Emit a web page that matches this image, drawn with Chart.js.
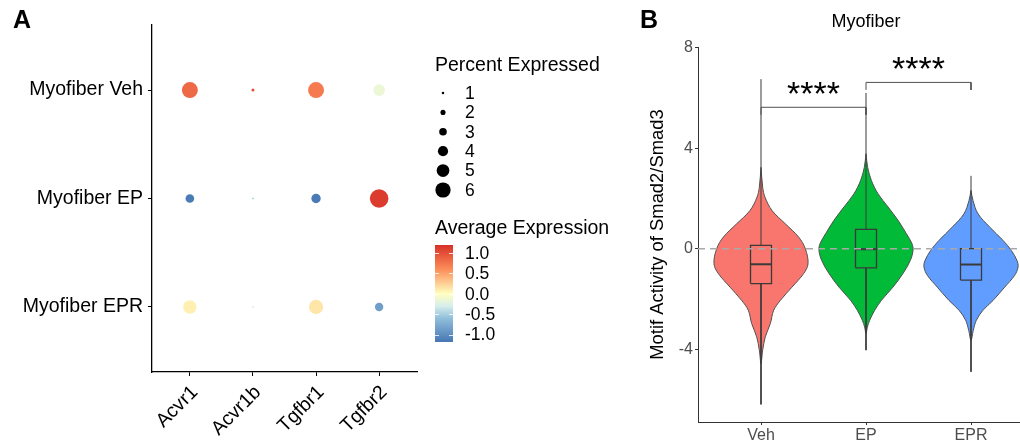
<!DOCTYPE html>
<html>
<head>
<meta charset="utf-8">
<script src="https://cdn.jsdelivr.net/npm/chart.js@4.4.1/dist/chart.umd.min.js"></script>
<style>
  html, body { margin: 0; padding: 0; background: #fff; overflow: hidden; }
  #wrap { position: relative; width: 1020px; height: 442px; }
  #chartA { position: absolute; left: 0; top: 0; }
  #chartB { position: absolute; left: 640px; top: 0; }
</style>
</head>
<body>
<div id="wrap">
  <canvas id="chartA" width="640" height="442"></canvas>
  <canvas id="chartB" width="380" height="442"></canvas>
</div>
<script>
// ---- Panel A: dot plot ----
const genes = ['Acvr1', 'Acvr1b', 'Tgfbr1', 'Tgfbr2'];
const groupsA = ['Myofiber Veh', 'Myofiber EP', 'Myofiber EPR'];
// percent expressed (rows follow groupsA)
const pctVeh = [6.3, 1.2, 6.3, 4.6];
const pctEP = [3.4, 0.8, 3.7, 7.3];
const pctEPR = [5.3, 0.6, 5.6, 3.3];
// average expression (scaled)
const avgVeh = [0.83, 1.0, 0.72, -0.15];
const avgEP = [-1.15, -0.45, -1.15, 1.12];
const avgEPR = [0.08, -0.4, 0.13, -0.87];
const sizeBreaks = [1, 2, 3, 4, 5, 6];
const colorBreaks = [1.0, 0.5, 0.0, -0.5, -1.0];

// ---- Panel B: violin plot ----
const groupsB = ['Veh', 'EP', 'EPR'];
const vehY = [3.24, 2.45, 2.05, 1.52, 0.99, 0.46, 0, -0.6, -0.99, -1.53, -2.06, -2.45, -2.98, -3.51, -4.04, -4.57];
const vehW = [0, 0.016, 0.038, 0.105, 0.232, 0.359, 0.422, 0.448, 0.406, 0.295, 0.184, 0.121, 0.089, 0.041, 0.016, 0];
const epY = [3.78, 3.24, 2.72, 2.19, 1.66, 1.13, 0.6, 0.2, -0.07, -0.47, -0.99, -1.53, -2.06, -2.45, -2.85, -3.12, -3.38];
const epW = [0, 0.016, 0.051, 0.114, 0.21, 0.305, 0.384, 0.438, 0.448, 0.422, 0.352, 0.257, 0.146, 0.083, 0.035, 0.013, 0];
const eprY = [2.32, 1.92, 1.39, 0.86, 0.33, -0.07, -0.47, -0.73, -1.06, -1.53, -2.06, -2.45, -2.85, -3.25, -3.65];
const eprW = [0, 0.019, 0.067, 0.178, 0.305, 0.384, 0.438, 0.448, 0.416, 0.321, 0.21, 0.114, 0.051, 0.022, 0];
// box stats: min, q1, median, q3, max
const vehBox = [-6.2, -1.39, -0.62, 0.13, 6.75];
const epBox = [-4.04, -0.76, -0.02, 0.77, 6.2];
const eprBox = [-4.9, -1.25, -0.63, 0.0, 2.9];
const comparisons = [[1, 2, 5.63], [2, 3, 6.62]];
const sigLabels = ['****', '****'];
const yTicksB = [8, 4, 0, -4];

const FONT = "'Liberation Sans', Arial, Helvetica, sans-serif";
Chart.defaults.font.family = FONT;

const colorStops = [
    [-1.2, [69, 117, 180]], [-0.6, [145, 191, 219]], [-0.3, [215, 238, 235]],
    [0, [255, 255, 191]], [0.6, [252, 141, 89]], [1.2, [215, 48, 39]]
];
function expColor(v) {
    v = Math.max(-1.2, Math.min(1.2, v));
    for (let i = 1; i < colorStops.length; i++) {
        const [v1, c1] = colorStops[i];
        const [v0, c0] = colorStops[i - 1];
        if (v <= v1) {
            const t = (v - v0) / (v1 - v0);
            const c = c0.map((a, k) => Math.round(a + (c1[k] - a) * t));
            return `rgb(${c[0]},${c[1]},${c[2]})`;
        }
    }
}
function pctRadius(p) { return p * 1.27; }

const pctRows = [pctVeh, pctEP, pctEPR];
const avgRows = [avgVeh, avgEP, avgEPR];
const bubbleData = [];
const bubbleColors = [];
pctRows.forEach((row, r) => {
    row.forEach((p, g) => {
        bubbleData.push({ x: g + 1, y: r + 1, r: pctRadius(p) });
        bubbleColors.push(expColor(avgRows[r][g]));
    });
});

const legendA = {
    id: 'legendA',
    afterDraw(chart) {
        const ctx = chart.ctx;
        ctx.save();
        ctx.fillStyle = '#000';
        ctx.font = `bold 25px ${FONT}`;
        ctx.textBaseline = 'alphabetic';
        ctx.fillText('A', 13, 28);

        ctx.font = `19.5px ${FONT}`;
        ctx.textBaseline = 'middle';
        ctx.fillText('Percent Expressed', 435, 66);
        sizeBreaks.forEach((s, i) => {
            const y = 93 + i * 19.4;
            ctx.beginPath();
            ctx.arc(443, y, pctRadius(s), 0, Math.PI * 2);
            ctx.fillStyle = '#000';
            ctx.fill();
            ctx.font = `17.5px ${FONT}`;
            ctx.fillText(String(s), 465, y + 1);
        });

        ctx.font = `19.5px ${FONT}`;
        ctx.fillText('Average Expression', 435, 229);
        const top = 245, bot = 342;
        const v2y = v => 253 + (1 - v) * (334.5 - 253) / 2;
        const grad = ctx.createLinearGradient(0, top, 0, bot);
        for (let k = 0; k <= 24; k++) {
            const v = 1.2 - k * 0.1;
            grad.addColorStop(Math.max(0, Math.min(1, (v2y(v) - top) / (bot - top))), expColor(v));
        }
        ctx.fillStyle = grad;
        ctx.fillRect(435, top, 18, bot - top);
        ctx.strokeStyle = 'rgba(255,255,255,0.8)';
        ctx.lineWidth = 1;
        colorBreaks.forEach(v => {
            const y = Math.round(v2y(v)) + 0.5;
            ctx.beginPath();
            ctx.moveTo(435, y); ctx.lineTo(439, y);
            ctx.moveTo(449, y); ctx.lineTo(453, y);
            ctx.stroke();
        });
        ctx.fillStyle = '#000';
        ctx.font = `17.5px ${FONT}`;
        colorBreaks.forEach(v => {
            ctx.fillText(v.toFixed(1), 465, v2y(v) + 1);
        });
        ctx.restore();
    }
};

new Chart(document.getElementById('chartA'), {
    type: 'bubble',
    data: {
        datasets: [{
            data: bubbleData,
            backgroundColor: bubbleColors,
            borderWidth: 0,
            hoverBorderWidth: 0
        }]
    },
    options: {
        responsive: false,
        animation: false,
        events: [],
        layout: { padding: { top: 25, right: 223, left: 0, bottom: 0 } },
        plugins: { legend: { display: false }, tooltip: { enabled: false } },
        scales: {
            x: {
                type: 'linear', min: 0.4, max: 4.6,
                afterBuildTicks: s => { s.ticks = genes.map((g, i) => ({ value: i + 1 })); },
                afterFit: s => { s.height = 70; },
                ticks: {
                    autoSkip: false, minRotation: 45, maxRotation: 45,
                    callback: v => genes[v - 1],
                    font: { size: 19.5 }, color: '#000', padding: 5, labelOffset: 5
                },
                grid: { drawOnChartArea: false, tickLength: 4, color: '#000', lineWidth: 1 },
                border: { color: '#000', width: 1.3 }
            },
            y: {
                type: 'linear', min: 0.4, max: 3.6, reverse: true,
                afterBuildTicks: s => { s.ticks = groupsA.map((g, i) => ({ value: i + 1 })); },
                afterFit: s => { s.width = 152; },
                ticks: {
                    autoSkip: false,
                    callback: v => groupsA[v - 1],
                    font: { size: 19.5 }, color: '#000', padding: 5
                },
                grid: { drawOnChartArea: false, tickLength: 4, color: '#000', lineWidth: 1 },
                border: { color: '#000', width: 1.3 }
            }
        }
    },
    plugins: [legendA]
});

// ---- build Panel B datasets ----
const violinColors = ['#F8766D', '#00BA38', '#619CFF'];
const shapes = [[vehY, vehW], [epY, epW], [eprY, eprW]];
const boxes = [vehBox, epBox, eprBox];
const dsB = [];
const BOXW = 0.1;
const LINE = '#3a3a3a';

shapes.forEach(([ys, ws], i) => {
    const c = i + 1;
    const right = ys.map((y, k) => ({ x: c + ws[k], y }));
    const left = ys.map((y, k) => ({ x: c - ws[k], y })).reverse();
    dsB.push({
        data: right.concat(left.slice(1)),
        showLine: true, fill: 'shape', tension: 0.35,
        backgroundColor: violinColors[i], borderColor: '#505050', borderWidth: 1,
        pointRadius: 0, order: 4
    });
});
boxes.forEach((b, i) => {
    const c = i + 1;
    const [mn, q1, md, q3, mx] = b;
    const line = (pts, w, order) => dsB.push({
        data: pts, showLine: true, fill: false, tension: 0,
        borderColor: LINE, borderWidth: w, pointRadius: 0, order
    });
    line([{ x: c, y: q3 }, { x: c, y: mx }], 1, 3);
    line([{ x: c, y: q1 }, { x: c, y: mn }], 1, 3);
    line([{ x: c - BOXW, y: q1 }, { x: c + BOXW, y: q1 }, { x: c + BOXW, y: q3 }, { x: c - BOXW, y: q3 }, { x: c - BOXW, y: q1 }], 1.3, 2);
    line([{ x: c - BOXW, y: md }, { x: c + BOXW, y: md }], 2, 2);
});
dsB.push({
    data: [{ x: 0.4, y: 0 }, { x: 3.6, y: 0 }],
    showLine: true, fill: false, borderColor: '#a9a9a9', borderWidth: 1.5,
    borderDash: [7, 5], pointRadius: 0, order: 1
});
comparisons.forEach(([a, b, h]) => {
    dsB.push({
        data: [{ x: a, y: h - 0.3 }, { x: a, y: h }, { x: b, y: h }, { x: b, y: h - 0.3 }],
        showLine: true, fill: false, borderColor: '#505050', borderWidth: 1,
        pointRadius: 0, order: 0
    });
});

const textB = {
    id: 'textB',
    afterDraw(chart) {
        const { ctx, scales: { x, y } } = chart;
        ctx.save();
        ctx.fillStyle = '#000';
        ctx.font = `bold 25px ${FONT}`;
        ctx.textBaseline = 'alphabetic';
        ctx.textAlign = 'left';
        ctx.fillText('B', 0, 28);
        ctx.font = `18px ${FONT}`;
        ctx.textAlign = 'center';
        ctx.textBaseline = 'middle';
        ctx.fillText('Myofiber', x.getPixelForValue(2), 22);
        ctx.font = `34px ${FONT}`;
        ctx.textBaseline = 'alphabetic';
        comparisons.forEach(([a, b, h], i) => {
            ctx.fillText(sigLabels[i], x.getPixelForValue((a + b) / 2), y.getPixelForValue(h) - 2);
        });
        ctx.restore();
    }
};

new Chart(document.getElementById('chartB'), {
    type: 'scatter',
    data: { datasets: dsB },
    options: {
        responsive: false,
        animation: false,
        events: [],
        layout: { padding: { top: 47, right: 0, left: 0, bottom: 0 } },
        plugins: { legend: { display: false }, tooltip: { enabled: false } },
        scales: {
            x: {
                type: 'linear', min: 0.4, max: 0.4 + 322 / 105,
                afterBuildTicks: s => { s.ticks = groupsB.map((g, i) => ({ value: i + 1 })); },
                afterFit: s => { s.height = 20; },
                ticks: {
                    autoSkip: false, maxRotation: 0,
                    callback: v => groupsB[v - 1],
                    font: { size: 16 }, color: '#4d4d4d', padding: 1
                },
                grid: { drawOnChartArea: false, tickLength: 3, color: '#333', lineWidth: 1 },
                border: { color: '#333', width: 1 }
            },
            y: {
                type: 'linear', min: -6.9, max: 8.03,
                afterBuildTicks: s => { s.ticks = yTicksB.map(v => ({ value: v })); },
                afterFit: s => { s.width = 58; },
                ticks: { font: { size: 16 }, color: '#4d4d4d', padding: 2 },
                grid: { drawOnChartArea: false, tickLength: 3, color: '#333', lineWidth: 1 },
                border: { color: '#333', width: 1 },
                title: {
                    display: true, text: 'Motif Activity of Smad2/Smad3',
                    font: { size: 18.4 }, color: '#000', padding: { top: 7, bottom: 0 }
                }
            }
        }
    },
    plugins: [textB]
});
</script>
</body>
</html>
